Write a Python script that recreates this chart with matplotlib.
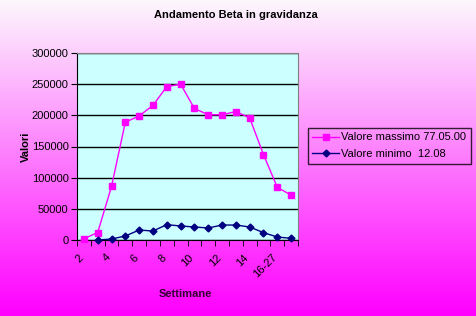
import numpy as np
import matplotlib
matplotlib.use("Agg")
import matplotlib.pyplot as plt
import matplotlib.transforms as mtransforms
from matplotlib.colors import LinearSegmentedColormap

plt.rcParams['font.family'] = ['Liberation Sans', 'DejaVu Sans']

categories = ["2", "3", "4", "5", "6", "7", "8", "9", "10", "11", "12", "13",
              "14", "15", "16-27", "28-40"]
valore_massimo = [2000, 12000, 86000, 189000, 199000, 216000, 246000, 250000,
                  211000, 201000, 201000, 206000, 196000, 137000, 84500, 72000]
valore_minimo = [np.nan, 0, 1600, 6400, 16000, 14400, 24600, 22500, 20900,
                 19300, 24000, 24000, 20900, 11800, 4800, 2700]
label_max = "Valore massimo 77.05.00"
label_min = "Valore minimo  12.08"

fig = plt.figure(figsize=(4.76, 3.16), dpi=100)

# gradient background
bg = fig.add_axes([0, 0, 1, 1], zorder=0)
cmap = LinearSegmentedColormap.from_list("g", [(1.0, 0.0, 1.0), (0.99, 0.97, 0.99)])
grad = np.linspace(0, 1, 256).reshape(-1, 1)
bg.imshow(grad, aspect='auto', cmap=cmap, origin='lower', extent=[0, 1, 0, 1])
bg.set_axis_off()

ax = fig.add_axes([77/476, 1-240/316, (298-77)/476, (240-53)/316], zorder=1)
ax.set_facecolor('#CCFFFF')
x = np.arange(len(categories))
ax.plot(x, valore_massimo, color='#FF00FF', marker='s', markersize=4,
        linewidth=1, label=label_max, zorder=3, clip_on=False)
ax.plot(x, valore_minimo, color='#000080', marker='D', markersize=3.5,
        linewidth=1, label=label_min, zorder=3, clip_on=False)

ax.set_xlim(-0.5, len(categories) - 0.5)
ax.set_ylim(0, 300000)
ax.set_yticks(np.arange(0, 300001, 50000))
ax.yaxis.grid(True, color='black', linewidth=1)
ax.set_axisbelow(True)
ax.tick_params(axis='y', labelsize=8, length=4, direction='out', pad=2)

ax.set_xticks(x[::2])
ax.set_xticklabels(categories[::2], rotation=45, ha='right', rotation_mode='anchor',
                   fontsize=8)
ax.tick_params(axis='x', length=0, pad=9)
offset = mtransforms.ScaledTranslation(-6/100, 0, fig.dpi_scale_trans)
for lbl in ax.get_xticklabels():
    lbl.set_transform(lbl.get_transform() + offset)
ax.set_xticks(np.arange(-0.5, len(categories), 1), minor=True)
ax.tick_params(axis='x', which='minor', length=4, direction='out')

for s in ['top', 'right']:
    ax.spines[s].set_color('#808080')
for s in ['left', 'bottom']:
    ax.spines[s].set_color('black')

ax.set_ylabel("Valori", fontsize=8, fontweight='bold')
ax.yaxis.set_label_coords(-0.21, 0.5)
ax.set_xlabel("Settimane", fontsize=8, fontweight='bold', color='#330033')
ax.xaxis.set_label_coords(0.49, -0.26)

fig.text(236/476, 1-15/316, "Andamento Beta in gravidanza", ha='center', va='center',
         fontsize=8, fontweight='bold')

leg = fig.legend(loc='upper left', bbox_to_anchor=(308/476, 1-128/316), fontsize=8,
                 frameon=True, fancybox=False, edgecolor='black', facecolor='none',
                 handlelength=2.4, borderpad=0.4, labelspacing=0.6, handletextpad=0.2,
                 borderaxespad=0)
leg.get_frame().set_linewidth(1)

fig.savefig("out.png", dpi=100)
